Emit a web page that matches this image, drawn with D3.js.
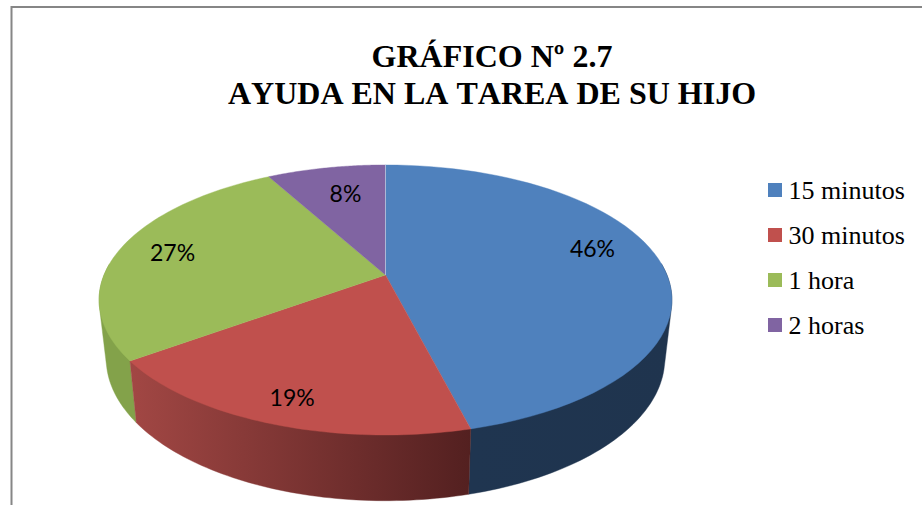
<!DOCTYPE html>
<html>
<head>
<meta charset="utf-8">
<script src="https://cdn.jsdelivr.net/npm/d3@7/dist/d3.min.js"></script>
<style>html,body{margin:0;padding:0;background:#fff;overflow:hidden}svg{display:block}text{font-kerning:none}</style>
</head>
<body>
<svg id="chart" width="922" height="505"></svg>
<script>
const categories = ["15 minutos", "30 minutos", "1 hora", "2 horas"];
const values = [46, 19, 27, 8];
const colors = ["#4F81BD", "#C0504D", "#9BBB59", "#8064A2"];
const wallStart = ["#1F3550", "#A24744", "#83A24A", "#6A5388"];
const wallEnd = ["#1F344E", "#532020", "#83A24A", "#6A5388"];
const labelRadius = [0.79, 0.85, 0.8, 0.72];
const labelNudge = [-7.8, -0.4, 0, 1.5];
const titleLines = ["GRÁFICO Nº 2.7", "AYUDA EN LA TAREA DE SU HIJO"];

const svg = d3.select("#chart");
const persp = 0.185;
const frontFrom = 85 * Math.PI / 180, frontTo = 275 * Math.PI / 180;

// Disc projection: a circle seen in perspective, angle clockwise from the top.
const topX = d3.scaleLinear().domain([-1, 1]).range([385.5 - 281.5, 385.5 + 281.5]);
const topY = d3.scaleLinear().domain([-1, 1]).range([275 + 130.4, 275 - 130.4]);
const botX = d3.scaleLinear().domain([-1, 1]).range([385.5 - 274.5, 385.5 + 274.5]);
const botY = d3.scaleLinear().domain([-1, 1]).range([332 + 137.5, 332 - 137.5]);
const project = (sx, sy, a, r = 1) => {
  const X = r * Math.sin(a), Y = r * Math.cos(a), d = 1 + persp * Y;
  return [sx(X / d), sy(Y / d)];
};

const slices = d3.pie().value(d => d).sort(null)(values);
const sweep = (a0, a1) => d3.range(0, 61).map(i => a0 + (a1 - a0) * i / 60);
const steps = (s) => sweep(s.startAngle, s.endAngle);
const line = d3.line();

const defs = svg.append("defs");
slices.forEach((s, i) => {
  const xs = sweep(Math.max(s.startAngle, frontFrom), Math.min(s.endAngle, frontTo))
    .map(a => project(topX, topY, a)[0]);
  const g = defs.append("linearGradient").attr("id", "wall" + i)
    .attr("gradientUnits", "userSpaceOnUse")
    .attr("x1", d3.min(xs)).attr("x2", d3.max(xs)).attr("y1", 0).attr("y2", 0);
  g.append("stop").attr("offset", 0).attr("stop-color", wallStart[i]);
  g.append("stop").attr("offset", 1).attr("stop-color", wallEnd[i]);
});

// Frame
svg.append("path").attr("d", "M11.5,505V7H922").attr("fill", "none")
  .attr("stroke", "#868686").attr("stroke-width", 2);

// Side walls of the front-facing arc only; the hull gives the straight tangent silhouette
[2, 0, 1].forEach(i => {
  const s = slices[i];
  const as = sweep(Math.max(s.startAngle, frontFrom), Math.min(s.endAngle, frontTo));
  const pts = d3.polygonHull(as.map(a => project(topX, topY, a))
    .concat(as.map(a => project(botX, botY, a))));
  svg.append("path").attr("d", line(pts) + "Z")
    .attr("fill", `url(#wall${i})`).attr("stroke", `url(#wall${i})`).attr("stroke-width", 0.4);
});

// Top faces
slices.forEach((s, i) => {
  const pts = [[topX(0), topY(0)]].concat(steps(s).map(a => project(topX, topY, a)));
  svg.append("path").attr("d", line(pts) + "Z").attr("fill", colors[i])
    .attr("stroke", colors[i]).attr("stroke-width", 0.4);
});
// Pale seam at the twelve o'clock edge
svg.append("path").attr("d", line([[topX(0), topY(0)], project(topX, topY, 0)]))
  .attr("stroke", "#B9C8E0").attr("stroke-width", 0.8).attr("fill", "none");

// Data labels
slices.forEach((s, i) => {
  const mid = (s.startAngle + s.endAngle) / 2 + labelNudge[i] * Math.PI / 180;
  const [x, y] = project(topX, topY, mid, labelRadius[i]);
  svg.append("text").attr("x", x).attr("y", y).attr("dy", "0.35em")
    .attr("text-anchor", "middle").attr("font-family", "Lato, sans-serif")
    .attr("font-size", 23).attr("fill", "#000").text(values[i] + "%");
});

// Title
svg.selectAll("text.title").data(titleLines).join("text").attr("class", "title")
  .attr("x", 492).attr("y", (d, i) => 67 + i * 36.5)
  .attr("text-anchor", "middle").attr("font-family", "'Liberation Serif', serif")
  .attr("font-weight", "bold").attr("font-size", 32).attr("fill", "#000").text(d => d);

// Legend
const legendY = d3.scalePoint().domain(categories).range([190, 325]);
const legend = svg.selectAll("g.legend").data(categories).join("g").attr("class", "legend")
  .attr("transform", d => `translate(0,${legendY(d)})`);
legend.append("rect").attr("x", 768).attr("y", -7).attr("width", 14).attr("height", 14)
  .attr("fill", (d, i) => colors[i]);
legend.append("text").attr("x", 788.5).attr("y", 8.5)
  .attr("font-family", "'Liberation Serif', serif").attr("font-size", 26)
  .attr("fill", "#000").text(d => d);
</script>
</body>
</html>
